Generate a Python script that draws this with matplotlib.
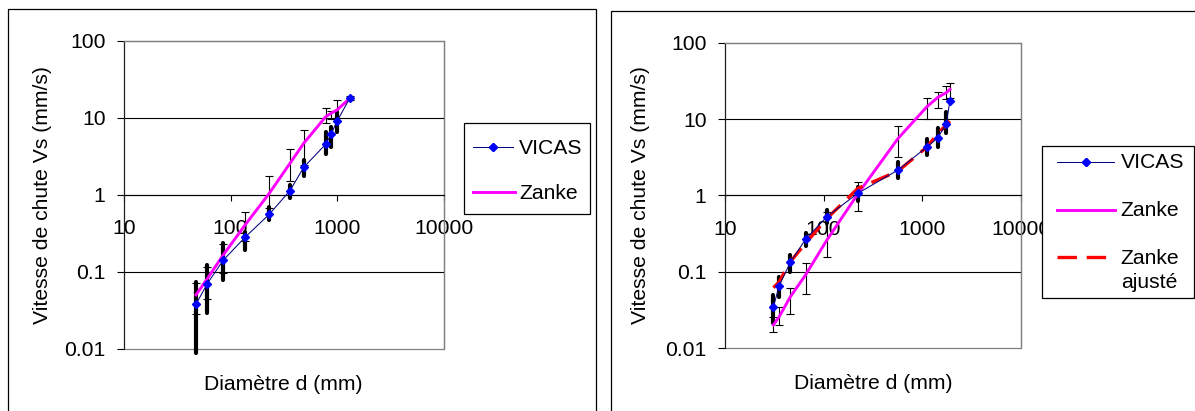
import matplotlib
matplotlib.use("Agg")
import numpy as np
import matplotlib.pyplot as plt
from matplotlib.patches import Rectangle
from matplotlib.lines import Line2D

plt.rcParams['font.family'] = ['Liberation Sans', 'DejaVu Sans']
plt.rcParams['lines.scale_dashes'] = False

# ---------------- data ----------------
x_ticks = [10, 100, 1000, 10000]
x_ticklabels = ["10", "100", "1000", "10000"]
y_ticks = [0.01, 0.1, 1, 10, 100]
y_ticklabels = ["0.01", "0.1", "1", "10", "100"]

xlabel = "Diamètre d (mm)"
ylabel = "Vitesse de chute Vs (mm/s)"

# left panel
left_d = [47.4, 60.5, 85.5, 137, 231, 362, 487, 783, 879, 1000, 1325]
left_vicas = [0.0377, 0.0698, 0.141, 0.28, 0.556, 1.13, 2.27, 4.52, 6.09, 8.98, 18.2]
left_vicas_lo = [0.0088, 0.0294, 0.078, 0.19, 0.47, 0.90, 1.75, 3.38, 4.2, 6.6, 18.2]
left_vicas_hi = [0.073, 0.122, 0.234, 0.33, 0.70, 1.34, 2.82, 6.57, 7.6, 12.0, 18.2]
left_zanke = [0.05, 0.081, 0.165, 0.404, 1.04, 2.56, 4.65, 10.3, 11.4, 12.6, 17.9]
left_zanke_lo = [0.028, 0.044, 0.097, 0.253, 0.68, 1.5, 2.43, 8.45, 9.5, 10.0, 17.0]
left_zanke_hi = [0.0706, 0.116, 0.228, 0.6, 1.75, 3.93, 6.98, 13.5, 12.3, 17.0, 19.3]

# right panel
right_d = [31, 35.5, 45.9, 65.6, 108, 223, 571, 1117, 1445, 1758, 1914]
right_vicas = [0.035, 0.066, 0.133, 0.267, 0.528, 1.07, 2.16, 4.31, 5.71, 8.7, 17.4]
right_vicas_lo = [0.0212, 0.047, 0.1, 0.218, 0.433, 0.85, 1.68, 3.39, 4.35, 6.5, 17.4]
right_vicas_hi = [0.05, 0.0865, 0.166, 0.326, 0.645, 1.3, 2.77, 5.5, 7.6, 12.5, 17.4]
right_zanke = [0.0202, 0.026, 0.047, 0.091, 0.261, 1.05, 5.6, 14.5, 19.3, 22.2, 24.5]
right_zanke_lo = [0.0165, 0.0202, 0.0279, 0.0514, 0.155, 0.626, 3.16, 10.1, 14.1, 18.2, 19.1]
right_zanke_hi = [0.026, 0.0343, 0.061, 0.132, 0.614, 1.52, 8.2, 18.7, 22.9, 27.1, 29.5]
right_adj = [0.062, 0.0745, 0.135, 0.237, 0.5, 1.24, 2.09, 4.3, 6.5, 8.4, 9.4]

# ---------------- styling ----------------
W, H = 1195, 411
FS = 15.2
NAVY = '#000080'
BLUE = '#0000FF'
MAG = '#FF00FF'
RED = '#FF0000'
GRAY = '#808080'

fig = plt.figure(figsize=(W / 100, H / 100), dpi=100)


def px_axes(x0, y0, x1, y1):
    return [x0 / W, 1 - y1 / H, (x1 - x0) / W, (y1 - y0) / H]


def fpos(x, y):
    return (x / W, 1 - y / H)


def setup(ax, ylab_x, xlab_y):
    ax.set_xscale('log')
    ax.set_yscale('log')
    ax.set_xlim(10, 10000)
    ax.set_ylim(0.01, 100)
    ax.set_xticks(x_ticks)
    ax.set_xticklabels(x_ticklabels)
    ax.set_yticks(y_ticks)
    ax.set_yticklabels(y_ticklabels)
    ax.minorticks_off()
    ax.spines['bottom'].set_position(('data', 1))
    ax.spines['bottom'].set_color('black')
    ax.spines['bottom'].set_linewidth(0.8)
    ax.spines['left'].set_color('#202020')
    ax.spines['left'].set_linewidth(0.8)
    for s in ('top', 'right'):
        ax.spines[s].set_color(GRAY)
        ax.spines[s].set_linewidth(0.9)
    ax.add_patch(Rectangle((0, 0), 1, 1, transform=ax.transAxes, fill=False,
                           ec=GRAY, lw=0.9, clip_on=False, zorder=0.5))
    ax.tick_params(axis='y', direction='out', length=4.7, width=0.8,
                   pad=8.6, labelsize=FS, colors='black')
    ax.tick_params(axis='x', direction='out', length=4.0, width=0.8,
                   pad=13.5, labelsize=FS, colors='black')
    ax.yaxis.grid(True, color='black', lw=0.8)
    ax.set_axisbelow(True)
    for val, gl in zip(y_ticks, ax.get_ygridlines()):
        if val in (0.01, 100):
            gl.set_visible(False)
    ax.set_xlabel(xlabel, fontsize=FS)
    ax.set_ylabel(ylabel, fontsize=FS)
    ax.xaxis.set_label_coords(0.5, xlab_y)
    ax.xaxis.label.set_va('center')
    ax.yaxis.set_label_coords(ylab_x, 0.5)
    ax.yaxis.label.set_va('center')


def errbars(ax, x, y, lo, hi, thick):
    y = np.asarray(y)
    err = [y - np.asarray(lo), np.asarray(hi) - y]
    if thick:
        eb = ax.errorbar(x, y, yerr=err, fmt='none', ecolor='black',
                         elinewidth=3.0, capsize=0, zorder=2)
        for lc in eb[2]:
            lc.set_capstyle('round')
            lc.set_clip_on(False)
    else:
        eb = ax.errorbar(x, y, yerr=err, fmt='none', ecolor='black',
                         elinewidth=0.8, capsize=3.0, capthick=0.8, zorder=2.2)


# ---------------- left panel ----------------
axL = fig.add_axes(px_axes(124, 40.7, 443.5, 348.7))
setup(axL, (43 - 124) / 319.5, (348.7 - 384) / 308)
errbars(axL, left_d, left_vicas, left_vicas_lo, left_vicas_hi, True)
errbars(axL, left_d, left_zanke, left_zanke_lo, left_zanke_hi, False)
axL.plot(left_d, left_zanke, color=MAG, lw=2.1, zorder=3)
axL.plot(left_d, left_vicas, color=NAVY, lw=0.75, marker='D', ms=4,
         mfc=BLUE, mec=BLUE, zorder=4)

# ---------------- right panel ----------------
axR = fig.add_axes(px_axes(725, 42.7, 1020.7, 348.3))
setup(axR, (641 - 725) / 295.7, (348.3 - 383) / 305.6)
errbars(axR, right_d, right_vicas, right_vicas_lo, right_vicas_hi, True)
errbars(axR, right_d, right_zanke, right_zanke_lo, right_zanke_hi, False)
axR.plot(right_d, right_zanke, color=MAG, lw=2.1, zorder=3)
axR.plot(right_d, right_adj, color=RED, lw=2.4, dashes=(14, 7), zorder=3.5)
axR.plot(right_d, right_vicas, color=NAVY, lw=0.75, marker='D', ms=4,
         mfc=BLUE, mec=BLUE, zorder=4)

# ---------------- outer frames ----------------
for (x0, y0, x1, y1) in [(8, 9.3, 595.7, 425), (610.7, 11, 1215, 425)]:
    fig.add_artist(Rectangle(fpos(x0, y1), (x1 - x0) / W, (y1 - y0) / H,
                             transform=fig.transFigure, fill=False,
                             ec='black', lw=0.9, zorder=1))

# ---------------- legends ----------------
def legend_box(x0, y0, x1, y1):
    fig.add_artist(Rectangle(fpos(x0, y1), (x1 - x0) / W, (y1 - y0) / H,
                             transform=fig.transFigure, fc='white',
                             ec='black', lw=0.9, zorder=5))


def legend_line(x0, x1, y, **kw):
    (a, b), (c, d) = fpos(x0, y), fpos(x1, y)
    fig.add_artist(Line2D([a, c], [b, d], transform=fig.transFigure,
                          zorder=6, **kw))


def legend_text(x, y, s):
    fig.text(*fpos(x, y), s, fontsize=FS, va='baseline', ha='left', zorder=6)


# left legend
legend_box(464.3, 122.7, 590, 214.3)
legend_line(473.3, 513.3, 147.3, color=NAVY, lw=0.75)
legend_line(492.7, 492.7, 147.3, color=BLUE, marker='D', ms=4, lw=0)
legend_text(519.3, 154.3, "VICAS")
legend_line(473.3, 514.7, 191.7, color=MAG, lw=2.1)
legend_text(519.3, 199.3, "Zanke")

# right legend
legend_box(1041.7, 145.7, 1194.3, 298.3)
legend_line(1057.3, 1114.3, 162.3, color=NAVY, lw=0.75)
legend_line(1086, 1086, 162.3, color=BLUE, marker='D', ms=4, lw=0)
legend_text(1120.7, 168.3, "VICAS")
legend_line(1057.3, 1115, 210, color=MAG, lw=2.1)
legend_text(1120.7, 216, "Zanke")
legend_line(1057.3, 1108, 257.3, color=RED, lw=2.4, dashes=(14, 7))
legend_text(1120.7, 264, "Zanke")
legend_text(1120.7, 287.5, "ajusté")

fig.savefig("out.png", dpi=100)
